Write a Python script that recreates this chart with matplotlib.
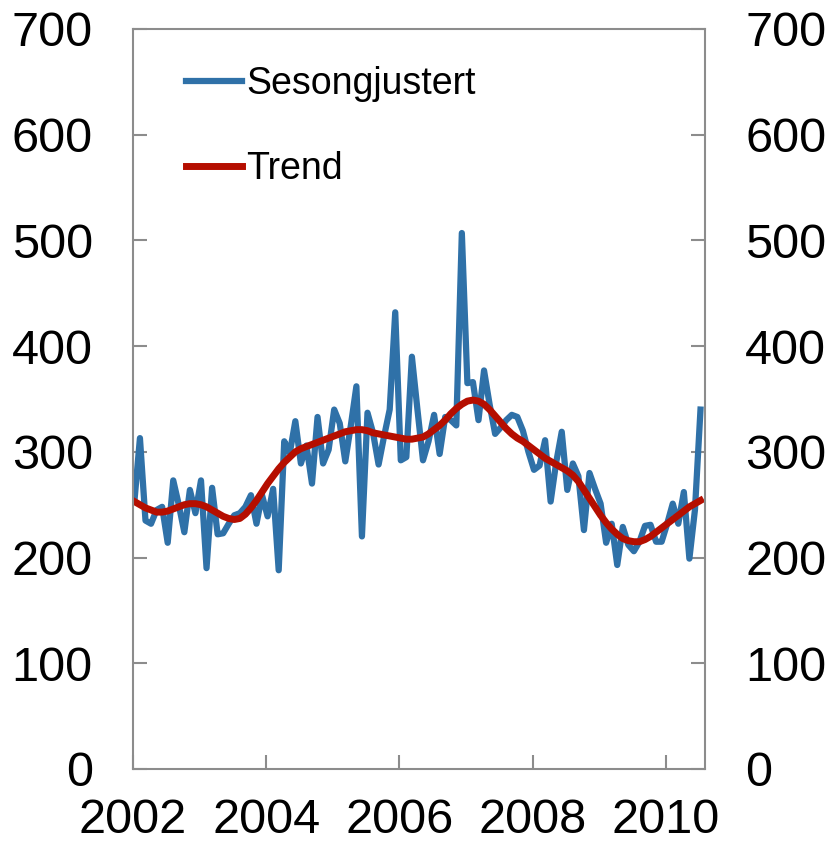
import numpy as np
import matplotlib
matplotlib.use("Agg")
import matplotlib.pyplot as plt
from matplotlib import font_manager

# pick a narrow arial-like font if we have one
names = {f.name for f in font_manager.fontManager.ttflist}
if "Liberation Sans Narrow" in names:
    fam = "Liberation Sans Narrow"
    tick_fs, leg_fs = 38, 32
else:
    fam = "Liberation Sans"
    tick_fs, leg_fs = 35, 27
plt.rcParams['font.family'] = [fam, 'DejaVu Sans']

# monthly data, jan 2002 - jul 2010
start_year = 2002
sesong = [253, 313, 235, 232, 245, 248, 214, 273, 250, 224,
          264, 242, 273, 190, 266, 222, 223, 232, 240, 242,
          248, 259, 232, 259, 239, 265, 188, 310, 299, 329,
          289, 306, 270, 333, 289, 302, 340, 327, 291, 325,
          362, 220, 337, 318, 288, 315, 340, 432, 292, 295,
          390, 340, 292, 310, 335, 298, 333, 330, 325, 507,
          365, 366, 330, 377, 345, 317, 323, 330, 335, 333,
          320, 300, 283, 287, 311, 253, 290, 319, 264, 289,
          277, 226, 280, 265, 251, 214, 232, 193, 229, 212,
          206, 215, 230, 231, 215, 215, 232, 251, 232, 262,
          199, 245, 340]
trend = [253, 250, 247, 245, 243, 243, 244, 246, 248, 250,
         251, 251, 250, 248, 245, 242, 239, 237, 236, 237,
         241, 247, 254, 262, 270, 277, 284, 290, 295, 300,
         303, 305, 307, 309, 311, 313, 315, 317, 319, 320,
         321, 321, 320, 318, 317, 316, 315, 314, 313, 312,
         312, 313, 314, 317, 321, 325, 330, 336, 341, 345,
         348, 349, 348, 345, 340, 334, 328, 322, 317, 313,
         310, 306, 302, 298, 294, 291, 288, 285, 282, 278,
         272, 264, 256, 248, 240, 233, 227, 222, 218, 216,
         215, 215, 217, 220, 224, 228, 232, 236, 240, 244,
         248, 251, 254]
labels = ["Sesongjustert", "Trend"]
xticks = [2002, 2004, 2006, 2008, 2010]
yticks = [0, 100, 200, 300, 400, 500, 600, 700]

t = start_year + (np.arange(len(sesong)) + 0.25) / 12.0

fig = plt.figure(figsize=(8.29, 8.49), dpi=100)
ax = fig.add_axes([133/829, 80/849, 572/829, 740/849])

ax.plot(t, sesong, color='#2f71a8', lw=4.5, label=labels[0], solid_joinstyle='round')
ax.plot(t, trend, color='#b50e00', lw=5.0, label=labels[1])

ax.set_xlim(2002, 2002 + 572/66.6)
ax.set_ylim(0, 700)
ax.set_xticks(xticks)
ax.set_yticks(yticks)

grey = '#8c8c8c'
for s in ['left', 'right', 'bottom', 'top']:
    ax.spines[s].set_color(grey)
    ax.spines[s].set_linewidth(1.5)

ax.tick_params(axis='y', direction='in', length=10, width=1.5, color=grey,
               left=True, right=True, labelleft=True, labelright=True,
               labelsize=tick_fs, pad=29)
ax.tick_params(axis='x', direction='in', length=10, width=1.5, color=grey,
               labelsize=tick_fs, pad=21)

leg = ax.legend(loc='upper left', bbox_to_anchor=(0.093, 0.95), frameon=False,
                fontsize=leg_fs, handlelength=1.5, handletextpad=0.1,
                labelspacing=1.3, borderpad=0, borderaxespad=0)

fig.savefig("out.png", dpi=100)
